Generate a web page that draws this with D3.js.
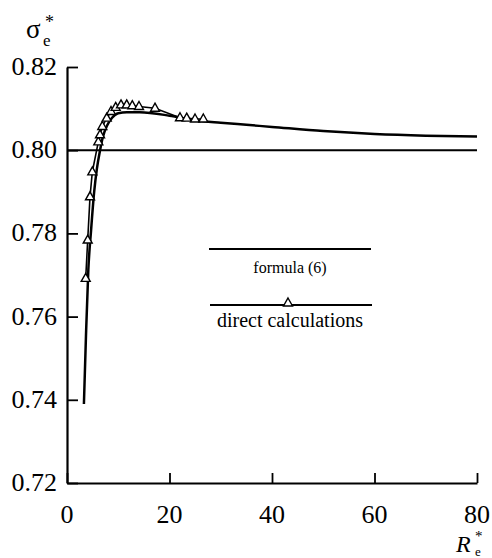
<!DOCTYPE html>
<html>
<head>
<meta charset="utf-8">
<script src="https://cdn.jsdelivr.net/npm/d3@7"></script>
<style>
  body { margin: 0; background: #fff; }
</style>
</head>
<body>
<div id="chart"></div>
<script>
// formula (6) curve
var formulaX = [3.3, 3.7, 4.16, 4.7, 5.3, 5.85, 6.45, 7.0, 7.8, 8.8, 10, 11.7, 14.2, 20, 25, 30, 35, 40, 50, 60, 70, 80];
var formulaY = [0.739, 0.7553, 0.7712, 0.7808, 0.790, 0.7957, 0.800, 0.8032, 0.8059, 0.8078, 0.8089, 0.8091, 0.8091, 0.8083, 0.8072, 0.8066, 0.8061, 0.8056, 0.8046, 0.8039, 0.8035, 0.8033];

// direct calculations (triangles)
var directX = [3.65, 4.04, 4.49, 4.94, 6.11, 6.44, 6.89, 7.75, 8.59, 9.5, 10.54, 11.65, 12.74, 14.05, 17.17, 22.05, 23.36, 24.98, 26.6];
var directY = [0.7692, 0.7784, 0.7888, 0.7948, 0.802, 0.8037, 0.8057, 0.8077, 0.8093, 0.8103, 0.8109, 0.8109, 0.8107, 0.8105, 0.8101, 0.8078, 0.8077, 0.8075, 0.8075];

// asymptote
var limitY = 0.80;

var xTicks = [0, 20, 40, 60, 80];
var yTicks = [0.72, 0.74, 0.76, 0.78, 0.80, 0.82];

var width = 492, height = 558;
var serif = "Liberation Serif";

var svg = d3.select("#chart").append("svg")
    .attr("width", width)
    .attr("height", height);

var x = d3.scaleLinear().domain([0, 80]).range([67, 477]);
var y = d3.scaleLinear().domain([0.72, 0.82]).range([483, 67]);

// Axes: ticks point inward, labels placed by hand
var xAxis = svg.append("g")
    .attr("transform", "translate(0," + y(0.72) + ")")
    .call(d3.axisTop(x).tickValues(xTicks).tickSize(10).tickSizeOuter(0).tickFormat(""));
xAxis.select(".domain").attr("stroke-width", 2.2);
xAxis.selectAll(".tick line").attr("stroke-width", 1.8);

var yAxis = svg.append("g")
    .attr("transform", "translate(" + x(0) + ",0)")
    .call(d3.axisRight(y).tickValues(yTicks).tickSize(11).tickSizeOuter(0).tickFormat(""));
yAxis.select(".domain").attr("stroke-width", 2.2);
yAxis.selectAll(".tick line").attr("stroke-width", 1.8);

svg.append("g").selectAll("text")
    .data(xTicks)
    .join("text")
    .attr("x", function(d) { return x(d); })
    .attr("y", 523)
    .attr("text-anchor", "middle")
    .style("font-family", serif)
    .style("font-size", "26px")
    .text(function(d) { return d; });

svg.append("g").selectAll("text")
    .data(yTicks)
    .join("text")
    .attr("x", 57)
    .attr("y", function(d) { return y(d) + 8; })
    .attr("text-anchor", "end")
    .style("font-family", serif)
    .style("font-size", "26px")
    .text(function(d) { return d.toFixed(2); });

// horizontal line at the limit value
svg.append("line")
    .attr("x1", x(0)).attr("x2", x(80))
    .attr("y1", y(limitY)).attr("y2", y(limitY))
    .attr("stroke", "#000")
    .attr("stroke-width", 2);

var formula = formulaX.map(function(d, i) { return [d, formulaY[i]]; });
var direct = directX.map(function(d, i) { return [d, directY[i]]; });

var smooth = d3.line()
    .x(function(d) { return x(d[0]); })
    .y(function(d) { return y(d[1]); })
    .curve(d3.curveMonotoneX);

var straight = d3.line()
    .x(function(d) { return x(d[0]); })
    .y(function(d) { return y(d[1]); });

svg.append("path")
    .datum(formula)
    .attr("d", smooth)
    .attr("fill", "none")
    .attr("stroke", "#000")
    .attr("stroke-width", 2.5);

svg.append("path")
    .datum(direct)
    .attr("d", straight)
    .attr("fill", "none")
    .attr("stroke", "#000")
    .attr("stroke-width", 1.6);

var tri = "M0,-5L4.5,3L-4.5,3Z";

svg.append("g").selectAll("path")
    .data(direct)
    .join("path")
    .attr("d", tri)
    .attr("transform", function(d) { return "translate(" + x(d[0]) + "," + y(d[1]) + ")"; })
    .attr("fill", "#fff")
    .attr("stroke", "#000")
    .attr("stroke-width", 1.4);

// legend
var legend = svg.append("g");
legend.append("line")
    .attr("x1", 209).attr("x2", 371)
    .attr("y1", 249).attr("y2", 249)
    .attr("stroke", "#000").attr("stroke-width", 2);
legend.append("text")
    .attr("x", 290).attr("y", 273)
    .attr("text-anchor", "middle")
    .style("font-family", serif)
    .style("font-size", "16px")
    .text("formula (6)");
legend.append("line")
    .attr("x1", 210).attr("x2", 372)
    .attr("y1", 305).attr("y2", 305)
    .attr("stroke", "#000").attr("stroke-width", 1.8);
legend.append("path")
    .attr("d", tri)
    .attr("transform", "translate(288,303)")
    .attr("fill", "#fff")
    .attr("stroke", "#000")
    .attr("stroke-width", 1.4);
legend.append("text")
    .attr("x", 290).attr("y", 327)
    .attr("text-anchor", "middle")
    .style("font-family", serif)
    .style("font-size", "20px")
    .text("direct calculations");

// axis titles: one text each, sub/superscript stacked with tspans
var yTitle = svg.append("text").attr("x", 26).attr("y", 38)
    .style("font-family", serif).style("font-size", "27px");
yTitle.append("tspan").text("σ");
yTitle.append("tspan").attr("x", 45).attr("y", 28).style("font-size", "18px").text("*");
yTitle.append("tspan").attr("x", 43).attr("y", 46).style("font-size", "17px").text("e");

var xTitle = svg.append("text").attr("x", 456).attr("y", 552)
    .style("font-family", serif).style("font-size", "24px");
xTitle.append("tspan").style("font-style", "italic").text("R");
xTitle.append("tspan").attr("x", 475).attr("y", 541).style("font-size", "15px").text("*");
xTitle.append("tspan").attr("x", 475).attr("y", 556).style("font-size", "13px").text("e");
</script>
</body>
</html>
